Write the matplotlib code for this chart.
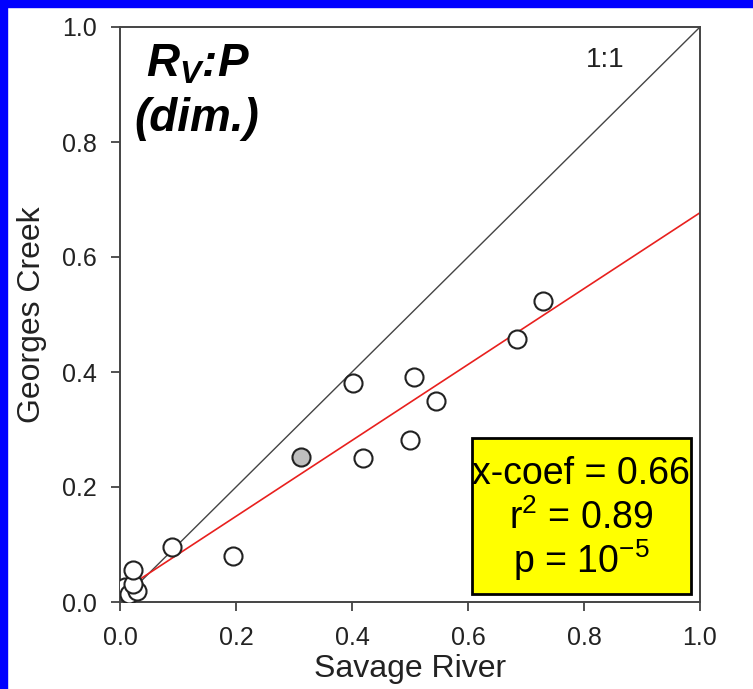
import matplotlib

matplotlib.use("Agg")
import matplotlib.pyplot as plt
from matplotlib.patches import Rectangle

plt.rcParams["font.family"] = ["Liberation Sans", "DejaVu Sans"]
plt.rcParams["mathtext.fontset"] = "custom"
plt.rcParams["mathtext.rm"] = "Liberation Sans"
plt.rcParams["mathtext.it"] = "Liberation Sans:italic:bold"

# Savage River (x) vs Georges Creek (y)
savage = [0.008, 0.015, 0.030, 0.022, 0.022, 0.090, 0.195, 0.402, 0.419, 0.500, 0.507, 0.545, 0.685, 0.729]
georges = [0.026, 0.014, 0.020, 0.032, 0.056, 0.096, 0.080, 0.381, 0.250, 0.282, 0.391, 0.350, 0.457, 0.523]
# highlighted (grey) site
grey_x = [0.312]
grey_y = [0.252]

fit_slope = 0.66
fit_intercept = 0.017
fit_x = [0.03, 1.0]
ticks = [0.0, 0.2, 0.4, 0.6, 0.8, 1.0]
stats_lines = ["x-coef = 0.66", r"r$^2$ = 0.89", r"p = 10$^{-5}$"]

fig = plt.figure(figsize=(7.53, 6.89), dpi=100)
fig.patch.set_facecolor("white")
# blue frame on left and top
fig.patches.append(Rectangle((0, 0), 7 / 753, 1, transform=fig.transFigure, color="#0000FF", zorder=0))
fig.patches.append(Rectangle((0, 1 - 7 / 689), 1, 7 / 689, transform=fig.transFigure, color="#0000FF", zorder=0))

ax = fig.add_axes([120 / 753, 87 / 689, 580 / 753, 575 / 689])
ax.set_xlim(0, 1)
ax.set_ylim(0, 1)

ax.plot([0, 1], [0, 1], color="#444444", lw=1.0, zorder=2)
ax.plot(fit_x, [fit_intercept + fit_slope * v for v in fit_x], color="#E8201E", lw=1.2, zorder=2)

ax.plot(savage, georges, "o", ms=13, mfc="white", mec="#222222", mew=1.5, zorder=3)
ax.plot(grey_x, grey_y, "o", ms=13, mfc="#BEBEBE", mec="#222222", mew=1.5, zorder=3)

ax.set_xticks(ticks)
ax.set_yticks(ticks)
ax.set_xticklabels([f"{t:.1f}" for t in ticks])
ax.set_yticklabels([f"{t:.1f}" for t in ticks])
ax.tick_params(direction="out", length=6.5, width=1.2, labelsize=18, colors="#333333", labelcolor="#222222")
ax.tick_params(axis="x", pad=11)
ax.tick_params(axis="y", pad=10)
for sp in ax.spines.values():
    sp.set_color("#444444")
    sp.set_linewidth(1.4)

ax.set_xlabel("Savage River", fontsize=23, color="#222222", labelpad=3)
ax.set_ylabel("Georges Creek", fontsize=23, color="#222222", labelpad=11)

ax.text(0.135, 0.935, r"$R_V$:P", fontsize=33, fontweight="bold", style="italic", ha="center", va="center", transform=ax.transAxes)
ax.text(0.133, 0.840, "(dim.)", fontsize=33, fontweight="bold", style="italic", ha="center", va="center", transform=ax.transAxes)
ax.text(0.836, 0.943, "1:1", fontsize=20, color="#222222", ha="center", va="center", transform=ax.transAxes)

box = Rectangle((0.607, 0.014), 0.377, 0.271, transform=ax.transAxes, facecolor="#FFFF00", edgecolor="black", lw=2, zorder=4)
ax.add_patch(box)
for txt, yy in zip(stats_lines, [0.222, 0.145, 0.072]):
    ax.text(0.795, yy, txt, fontsize=27, ha="center", va="center", transform=ax.transAxes, zorder=5)

fig.savefig("out.png", dpi=100)
